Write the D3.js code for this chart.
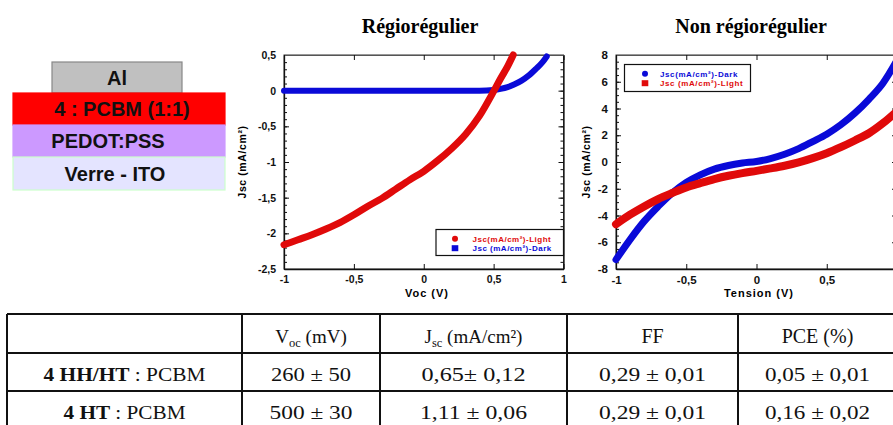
<!DOCTYPE html>
<html><head><meta charset="utf-8">
<script src="https://cdn.jsdelivr.net/npm/d3@7"></script>
<style>body{margin:0;background:#fff;} svg{display:block;}</style>
</head><body>
<svg id="c" width="893" height="425"></svg>
<script>
// ---------- data ----------
const layers = ["Al", "4 : PCBM (1:1)", "PEDOT:PSS", "Verre - ITO"];
const titles = ["Régiorégulier", "Non régiorégulier"];

const regioLightV = [-1,-0.9,-0.8,-0.7,-0.6,-0.5,-0.4,-0.3,-0.2,-0.1,0,0.1,0.2,0.3,0.4,0.5,0.55,0.6,0.64];
const regioLightJ = [-2.16,-2.09,-2.02,-1.94,-1.85,-1.74,-1.62,-1.51,-1.38,-1.25,-1.13,-0.98,-0.81,-0.61,-0.35,-0.01,0.17,0.34,0.5];
const regioDarkV = [-1,-0.5,0,0.3,0.4,0.5,0.55,0.6,0.65,0.7,0.75,0.8,0.85,0.88];
const regioDarkJ = [0,0,0,0,0,0.01,0.025,0.05,0.09,0.14,0.21,0.30,0.40,0.48];

const nonV = [-1,-0.9,-0.8,-0.7,-0.6,-0.5,-0.4,-0.3,-0.2,-0.1,0,0.1,0.2,0.3,0.4,0.5,0.6,0.7,0.8,0.9,1];
const nonDarkJ = [-7.3,-5.8,-4.44,-3.32,-2.32,-1.53,-0.96,-0.53,-0.26,-0.08,0.04,0.26,0.58,1.0,1.53,2.08,2.78,3.65,4.69,5.89,7.6];
const nonLightJ = [-4.65,-3.94,-3.32,-2.77,-2.32,-1.90,-1.58,-1.28,-1.03,-0.83,-0.66,-0.48,-0.28,-0.03,0.29,0.66,1.11,1.61,2.15,2.9,3.8];

const regioXTicks = [-1,-0.5,0,0.5,1];
const regioYTicks = [-2.5,-2,-1.5,-1,-0.5,0,0.5];
const nonXTicks = [-1,-0.5,0,0.5];
const nonYTicks = [-8,-6,-4,-2,0,2,4,6,8];

const regioLegend = ["Jsc(mA/cm²)-Light", "Jsc (mA/cm²)-Dark"];
const nonLegend = ["Jsc(mA/cm²)-Dark", "Jsc (mA/cm²)-Light"];

const rowBold = ["4 HH/HT", "4 HT"];
const rowRest = " : PCBM";
const vocVals = ["260 ± 50", "500 ± 30"];
const jscVals = ["0,65± 0,12", "1,11 ± 0,06"];
const ffVals = ["0,29 ± 0,01", "0,29 ± 0,01"];
const pceVals = ["0,05 ± 0,01", "0,16 ± 0,02"];

// ---------- drawing ----------
const svg = d3.select("#c");
const RED = "#e00a0a", BLUE = "#0a0ad8";
const sans = "'Liberation Sans', Arial, sans-serif";
const serif = "'Liberation Serif', 'Times New Roman', serif";
const fmt = d => String(d).replace(".", ",");

const stack = [
  {x:52, y:62, w:130, h:31, fill:"#c0c0c0", stroke:"#888", tx:117},
  {x:13, y:93, w:212, h:32, fill:"#ff0000", stroke:"#ff0000", tx:122},
  {x:13, y:125, w:212, h:32, fill:"#cc99ff", stroke:"#cc99ff", tx:108},
  {x:13, y:157, w:212, h:33, fill:"#e4e4ff", stroke:"#ccffcc", tx:115}
];
stack.forEach((s,i)=>{
  svg.append("rect").attr("x",s.x).attr("y",s.y).attr("width",s.w).attr("height",s.h)
    .attr("fill",s.fill).attr("stroke",s.stroke).attr("stroke-width",1.2);
  svg.append("text").attr("x",s.tx).attr("y",s.y+s.h/2+7).attr("text-anchor","middle")
    .attr("font-family",sans).attr("font-weight","bold").attr("font-size",20).attr("fill","#111")
    .text(layers[i]);
});

[[420,titles[0]],[751,titles[1]]].forEach(([x,t])=>{
  svg.append("text").attr("x",x).attr("y",33).attr("text-anchor","middle")
    .attr("font-family",serif).attr("font-weight","bold").attr("font-size",20).text(t);
});

function panel(o){
  const {x,y,xt,yt,ym,yfs,xtitle,ytitleX,series,legend} = o;
  const g = svg.append("g");
  const [x0,x1] = x.range(), [yb,yt0] = y.range();
  g.append("rect").attr("x",x0).attr("y",yt0).attr("width",x1-x0).attr("height",yb-yt0)
    .attr("fill","none").attr("stroke","#333").attr("stroke-width",1);
  const style = sel => {
    sel.selectAll("path.domain").attr("stroke","#111").attr("stroke-width",1.3);
    sel.selectAll(".tick line").attr("stroke","#111").attr("stroke-width",1);
    sel.selectAll("text").attr("font-family",sans).attr("font-weight","bold").attr("fill","#111");
  };
  g.append("g").attr("transform",`translate(${x0},0)`)
    .call(d3.axisLeft(y).tickValues(yt).tickSizeInner(-5).tickSizeOuter(0).tickPadding(8).tickFormat(fmt))
    .call(style).call(s=>s.selectAll("text").attr("font-size",yfs));
  g.append("g").attr("transform",`translate(${x0},0)`)
    .call(d3.axisLeft(y).tickValues(ym).tickSize(-3).tickFormat(""))
    .call(style).call(s=>s.select(".domain").remove());
  g.append("g").attr("transform",`translate(${x1},0)`)
    .call(d3.axisRight(y).tickValues(yt).tickSizeInner(-5).tickSizeOuter(0).tickFormat(""))
    .call(style);
  g.append("g").attr("transform",`translate(${x1},0)`)
    .call(d3.axisRight(y).tickValues(ym).tickSize(-3).tickFormat(""))
    .call(style).call(s=>s.select(".domain").remove());
  g.append("g").attr("transform",`translate(0,${yb})`)
    .call(d3.axisBottom(x).tickValues(xt).tickSizeInner(-5).tickSizeOuter(0).tickPadding(7).tickFormat(fmt))
    .call(style).call(s=>s.selectAll("text").attr("font-size",yfs));
  g.append("g").attr("transform",`translate(0,${yt0})`)
    .call(d3.axisTop(x).tickValues(xt).tickSizeInner(-5).tickSizeOuter(0).tickFormat(""))
    .call(style).call(s=>s.select(".domain").attr("stroke","#555").attr("stroke-width",1));
  g.append("text").attr("x",o.xtitleX).attr("y",297).attr("text-anchor","middle")
    .attr("font-family",sans).attr("font-weight","bold").attr("font-size",11).attr("letter-spacing",1)
    .text(xtitle);
  g.append("text").attr("transform",`translate(${ytitleX},${(yb+yt0)/2}) rotate(-90)`)
    .attr("text-anchor","middle").attr("font-family",sans).attr("font-weight","bold")
    .attr("font-size",10.5).attr("letter-spacing",0.6).text("Jsc (mA/cm²)");
  series.forEach(s=>{
    const line = d3.line().x(d=>x(d[0])).y(d=>y(d[1])).curve(d3.curveMonotoneX);
    g.append("path").datum(d3.zip(s.v,s.j)).attr("d",line).attr("fill","none")
      .attr("stroke",s.color).attr("stroke-width",s.w).attr("stroke-linecap","round").attr("stroke-linejoin","round");
  });
  const L = legend;
  g.append("rect").attr("x",L.x).attr("y",L.y).attr("width",L.w).attr("height",L.h)
    .attr("fill","#fff").attr("stroke","#111").attr("stroke-width",1.2);
  L.items.forEach((it,i)=>{
    const cy = L.y + 9.3 + i*9.4;
    if (it.shape==="circle") g.append("circle").attr("cx",L.mx).attr("cy",cy).attr("r",3).attr("fill",it.color);
    else g.append("rect").attr("x",L.mx-3.3).attr("y",cy-3).attr("width",6.6).attr("height",6).attr("fill",it.color);
    g.append("text").attr("x",L.tx).attr("y",cy+3).attr("font-family",sans).attr("font-weight","bold")
      .attr("font-size",8).attr("letter-spacing",L.ls).attr("fill",it.color).text(it.label);
  });
}

panel({
  x: d3.scaleLinear([-1,1],[284,563.5]),
  y: d3.scaleLinear([-2.5,0.5],[269,55]),
  xt: regioXTicks, yt: regioYTicks,
  ym: d3.range(-25,6).map(i=>i/10),
  yfs: 10.5, xtitle: "Voc (V)", xtitleX: 427, ytitleX: 246,
  series: [
    {v: regioDarkV, j: regioDarkJ, color: BLUE, w: 6},
    {v: regioLightV, j: regioLightJ, color: RED, w: 7}
  ],
  legend: {x:436, y:229.5, w:127.5, h:26, mx:455, tx:472.5, ls:0.5,
    items:[{label:regioLegend[0], color:RED, shape:"circle"},{label:regioLegend[1], color:BLUE, shape:"square"}]}
});

panel({
  x: d3.scaleLinear([-1,1],[616,897]),
  y: d3.scaleLinear([-8,8],[269,55]),
  xt: nonXTicks, yt: nonYTicks,
  ym: d3.range(-16,17).map(i=>i/2),
  yfs: 11.5, xtitle: "Tension (V)", xtitleX: 759, ytitleX: 590,
  series: [
    {v: nonV, j: nonDarkJ, color: BLUE, w: 7},
    {v: nonV, j: nonLightJ, color: RED, w: 8}
  ],
  legend: {x:624.5, y:64.5, w:126, h:27, mx:645, tx:660, ls:0.6,
    items:[{label:nonLegend[0], color:BLUE, shape:"circle"},{label:nonLegend[1], color:RED, shape:"square"}]}
});

// ---------- table ----------
const colX = [7, 242, 380, 567, 738, 897];
const rowY = [314, 353, 391, 430];
const tg = svg.append("g");
colX.forEach(cx=>tg.append("line").attr("x1",cx).attr("x2",cx).attr("y1",rowY[0]).attr("y2",rowY[3]).attr("stroke","#111").attr("stroke-width",2));
rowY.forEach(ry=>tg.append("line").attr("x1",colX[0]).attr("x2",colX[5]).attr("y1",ry).attr("y2",ry).attr("stroke","#111").attr("stroke-width",2));
const cen = i => (colX[i]+colX[i+1])/2;
const tt = (x,y,len) => {
  const t = tg.append("text").attr("x",x).attr("y",y).attr("text-anchor","middle")
    .attr("font-family",serif).attr("font-size",19).attr("fill","#111");
  if (len) t.attr("textLength",len).attr("lengthAdjust","spacingAndGlyphs");
  return t;
};
let h = tt(cen(1),343); h.append("tspan").text("V"); h.append("tspan").attr("font-size",12.5).attr("dy",4).text("oc");
h.append("tspan").attr("dy",-4).text(" (mV)");
h = tt(cen(2),343); h.append("tspan").text("J"); h.append("tspan").attr("font-size",12.5).attr("dy",4).text("sc");
h.append("tspan").attr("dy",-4).text(" (mA/cm²)");
tt(cen(3),343).attr("font-size",20).text("FF");
tt(cen(4),343).attr("font-size",20).text("PCE (%)");
const labelLen = [162,122], vocLen = [80,83], jscLen = [104,107], ffLen = [107,107], pceLen = [105,105];
[381,419].forEach((by,r)=>{
  const t = tt(cen(0),by,labelLen[r]);
  t.append("tspan").attr("font-weight","bold").text(rowBold[r]);
  t.append("tspan").text(rowRest);
  tt(cen(1),by,vocLen[r]).text(vocVals[r]);
  tt(cen(2),by,jscLen[r]).text(jscVals[r]);
  tt(cen(3),by,ffLen[r]).text(ffVals[r]);
  tt(cen(4),by,pceLen[r]).text(pceVals[r]);
});
</script>
</body></html>
